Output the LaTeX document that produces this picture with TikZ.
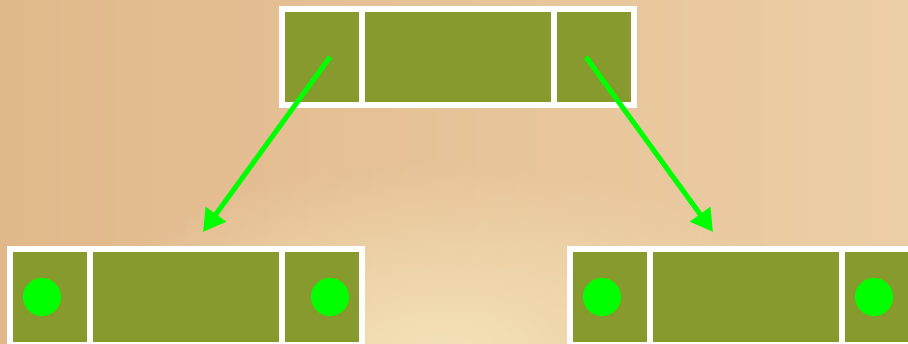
\documentclass[tikz,border=0pt]{standalone}
\usepackage{tikz}
\usetikzlibrary{arrows.meta,fadings}
\usepackage{xcolor}

\definecolor{cellgreen}{RGB}{134,154,46}
\definecolor{dotgreen}{RGB}{0,255,0}
\definecolor{woodleft}{RGB}{225,184,138}
\definecolor{woodmid}{RGB}{233,199,156}
\definecolor{woodright}{RGB}{236,206,166}
\definecolor{woodlight}{RGB}{245,226,184}

\tikzfading[name=glow, inner color=transparent!0, outer color=transparent!100]

\begin{document}
\begin{tikzpicture}[x=0.03cm, y=-0.03cm,
	cell/.style={draw=white, fill=cellgreen, line width=0.18cm, inner sep=0pt, minimum height=2.88cm},
	dot/.style={circle, fill=dotgreen, inner sep=0pt, minimum size=1.14cm},
	flow/.style={draw=dotgreen, line width=0.15cm, -{Triangle[length=0.66cm, width=0.72cm]}}]
	\useasboundingbox (0,0) rectangle (908,344);
	\clip (0,0) rectangle (908,344);
	\shade [left color=woodleft, middle color=woodmid, right color=woodright] (0,0) rectangle (908,344);
	\fill [woodlight, path fading=glow] (440,350) ellipse (380 and 190);
	
	\foreach \name/\x/\y/\w in {
		top-l/322/57/80,
		top-m/458/57/192,
		top-r/594/57/80,
		bl-l/50/297/80,
		bl-m/186/297/192,
		bl-r/322/297/80,
		br-l/610/297/80,
		br-m/746/297/192,
		br-r/882/297/80
	}
	{
		\node [cell, minimum width=\w*0.03cm] (\name) at (\x,\y) {};
	}
	
	\foreach \name/\x in {
		bl-dot-l/42,
		bl-dot-r/330,
		br-dot-l/602,
		br-dot-r/874
	}
	{
		\node [dot] (\name) at (\x,297) {};
	}
	
	\coordinate (tip-l) at (203,232);
	\coordinate (tip-r) at (713,232);
	\draw [flow] ([xshift=0.24cm]top-l.center) -- (tip-l);
	\draw [flow] ([xshift=-0.24cm]top-r.center) -- (tip-r);
\end{tikzpicture}
\end{document}
